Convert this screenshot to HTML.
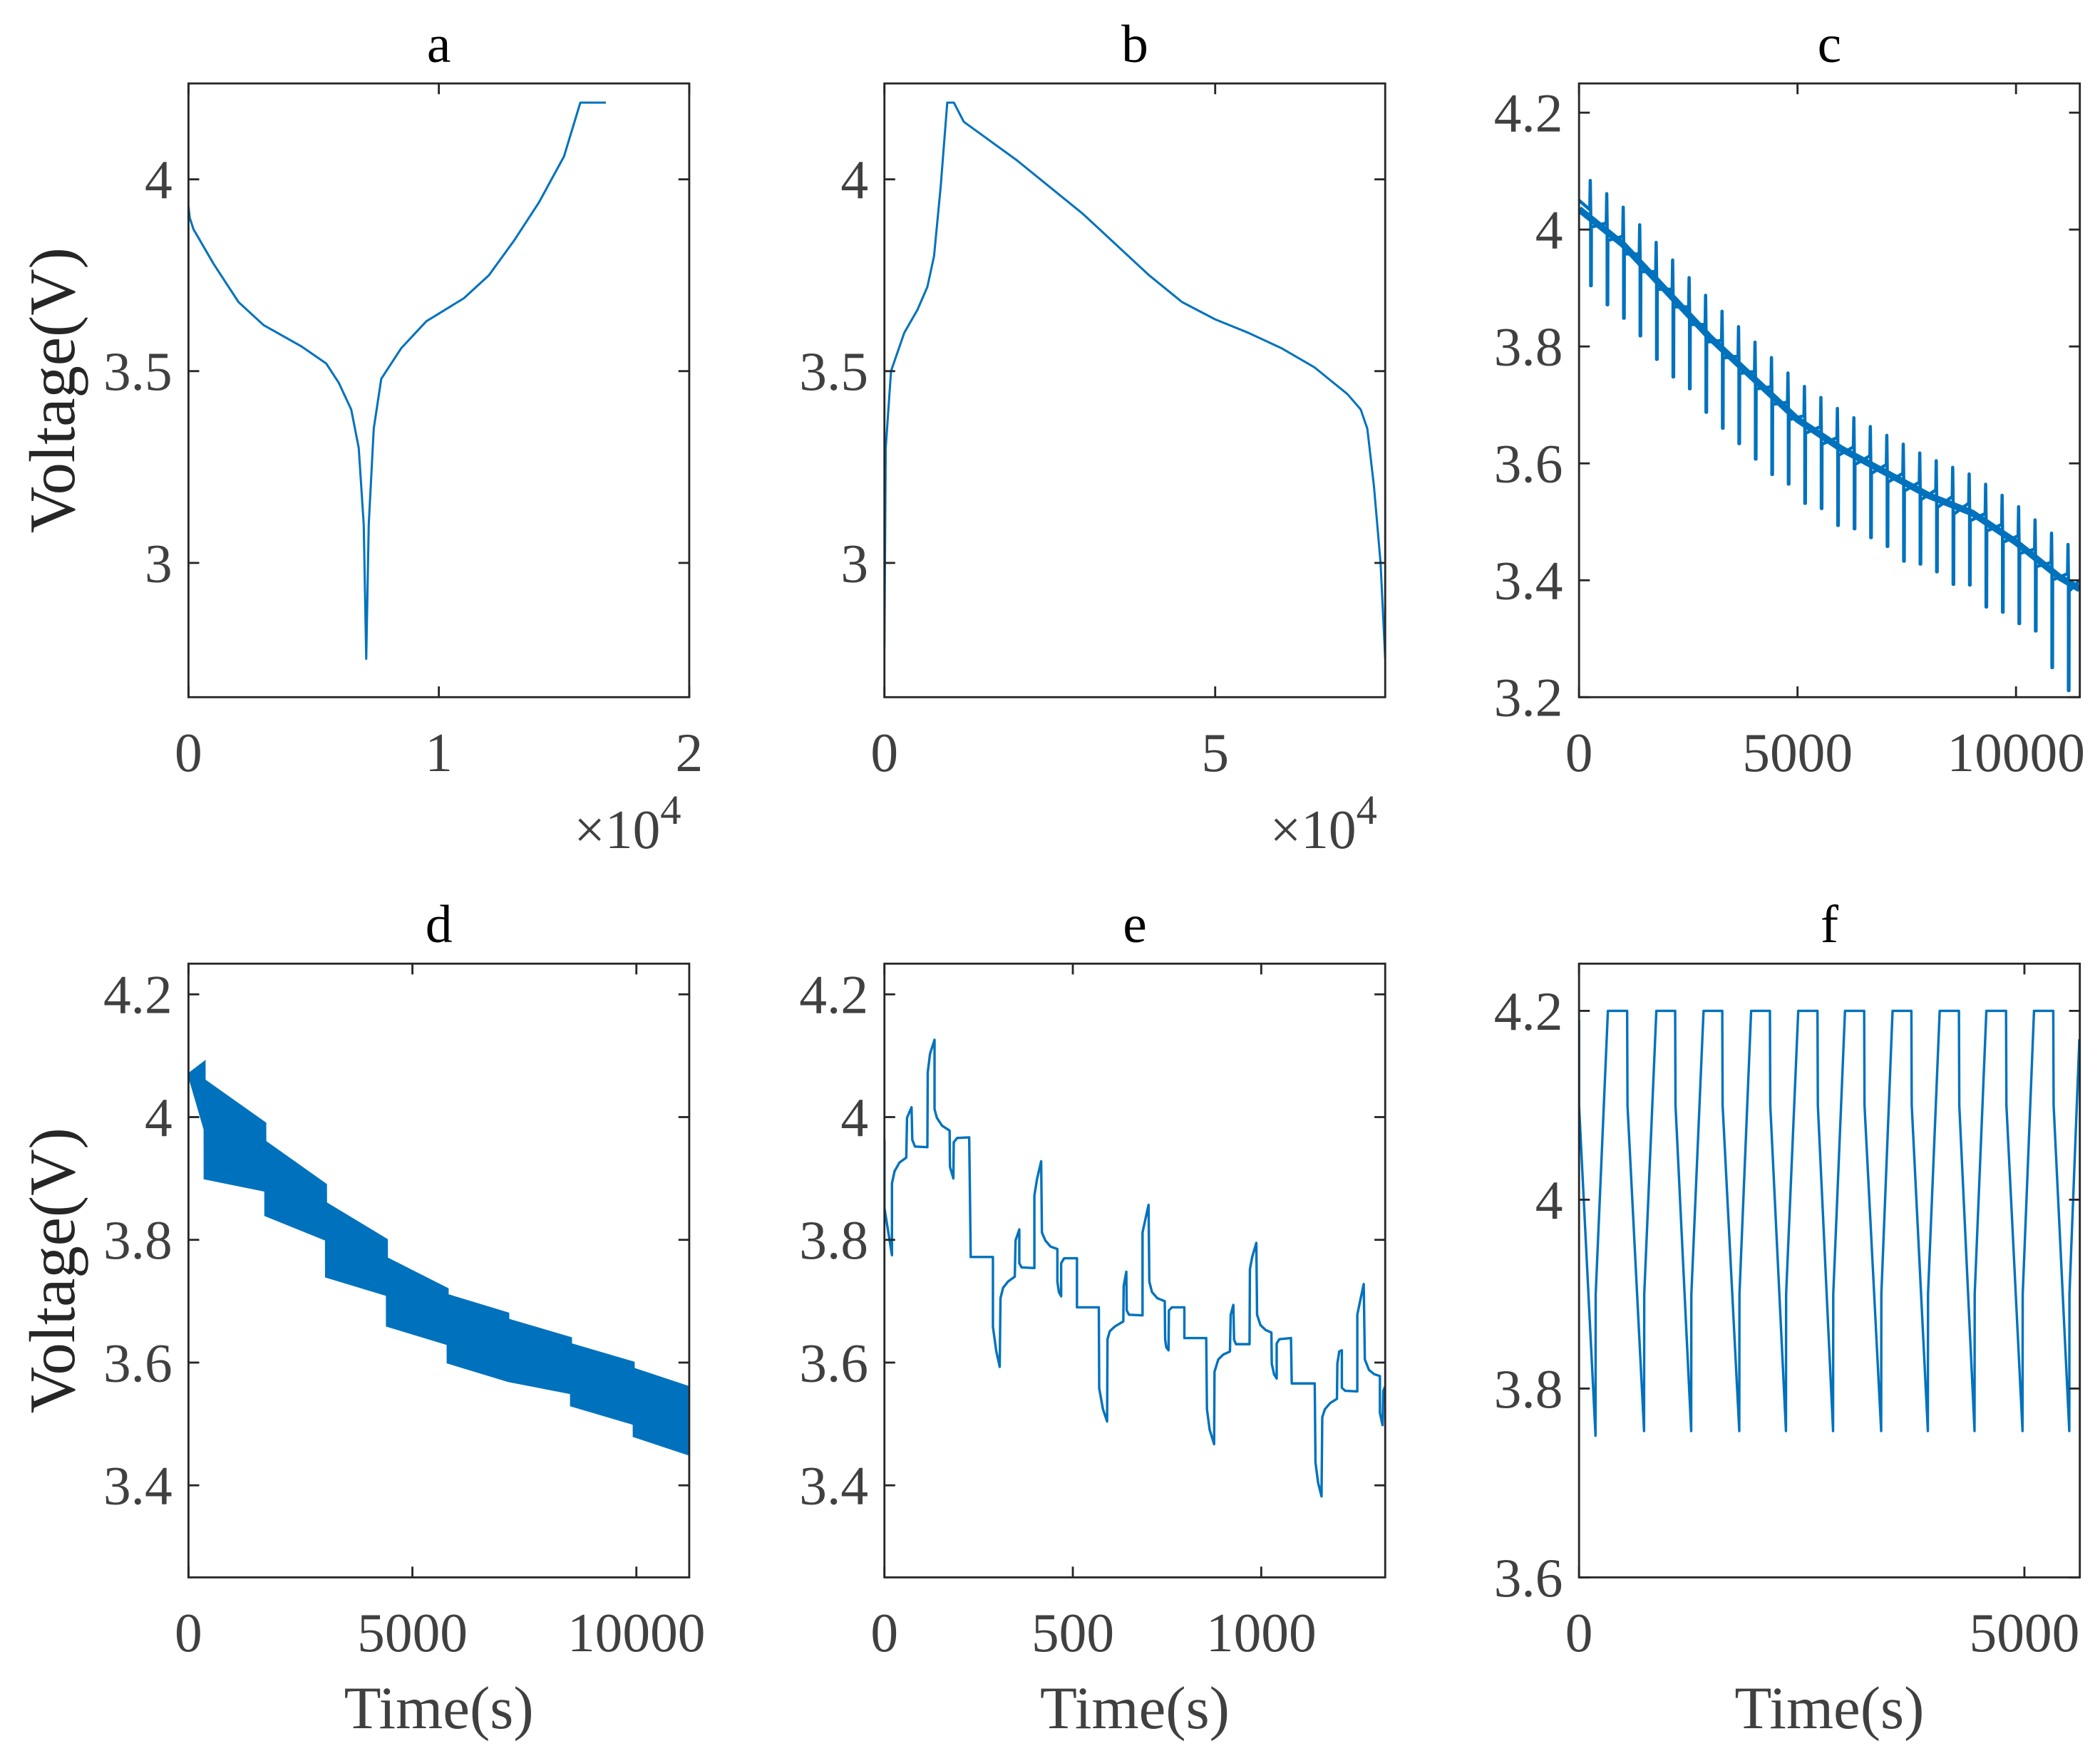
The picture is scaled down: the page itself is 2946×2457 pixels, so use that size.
<!DOCTYPE html>
<html><head><meta charset="utf-8"><style>
html,body{margin:0;padding:0;background:#fff;}
svg{display:block;}
text{font-family:"Liberation Serif","Times New Roman",serif;}
</style></head><body>
<svg id="fig" width="2946" height="2457" viewBox="0 0 1560 1301" preserveAspectRatio="none" xmlns="http://www.w3.org/2000/svg"></svg>
<script>
// ---------- data ----------
const aT = [0,0.005,0.02,0.1,0.2,0.3,0.45,0.55,0.6,0.65,0.68,0.7,0.71,0.72,0.74,0.77,0.85,0.95,1.1,1.2,1.3,1.4,1.5,1.565,1.667];
const aV = [3.93,3.9,3.87,3.78,3.68,3.62,3.565,3.52,3.47,3.4,3.3,3.1,2.75,3.1,3.35,3.48,3.56,3.63,3.69,3.75,3.84,3.94,4.06,4.2,4.2];
const bT = [0,0.02,0.1,0.3,0.5,0.65,0.75,0.85,0.95,1.05,1.2,1.6,2,3,4,4.5,5,5.5,6,6.5,7,7.2,7.3,7.4,7.5,7.57];
const bV = [2.78,3.3,3.5,3.6,3.66,3.72,3.8,3.98,4.2,4.2,4.15,4.1,4.05,3.91,3.75,3.68,3.635,3.6,3.56,3.51,3.44,3.4,3.35,3.2,3.0,2.75];
const cT = [0,1000,2000,3000,4000,5000,6000,7000,8000,9000,10000,11000,11460];
const cV = [4.05,3.99,3.91,3.83,3.76,3.69,3.64,3.6,3.56,3.53,3.48,3.42,3.4];
const cSpikeT = [267,644,1021,1398,1775,2152,2529,2906,3283,3660,4037,4414,4791,5168,5545,5922,6299,6676,7053,7430,7807,8184,8561,8938,9315,9692,10069,10446,10823,11200];
const cSpikeDepth = [0.13,0.14,0.14,0.14,0.15,0.15,0.14,0.15,0.15,0.15,0.15,0.15,0.14,0.15,0.14,0.15,0.14,0.14,0.14,0.15,0.14,0.14,0.15,0.14,0.16,0.15,0.15,0.14,0.18,0.2];
const dT = [0,360,361,1715,1716,3070,3071,4430,4431,5786,5787,7140,7141,8540,8541,9940,9941,11180];
const dTop = [4.07,4.09,4.06,3.99,3.96,3.89,3.86,3.8,3.77,3.72,3.71,3.68,3.67,3.64,3.63,3.6,3.59,3.56];
const dBot = [4.07,3.98,3.9,3.88,3.84,3.8,3.74,3.71,3.66,3.63,3.6,3.57,3.57,3.55,3.53,3.5,3.48,3.45];
const eT = [0,0,20,20,27,40,58,60,72,74,81,114,115,121,133,133,139,153,173,174,183,184,193,225,227,229,288,288,297,306,308,315,328,346,348,358,358,364,398,398,405,416,418,427,441,459,459,463,469,469,477,511,511,569,570,580,591,592,598,612,634,635,642,643,649,685,685,692,701,703,710,724,744,745,748,754,755,763,796,796,854,856,863,875,876,886,899,917,919,926,928,933,969,970,976,987,989,998,1012,1027,1028,1034,1041,1041,1048,1079,1081,1142,1144,1151,1160,1162,1169,1183,1201,1202,1207,1214,1214,1223,1255,1255,1264,1272,1275,1286,1300,1315,1315,1322,1324,1329];
const eV = [3.963,3.852,3.775,3.892,3.912,3.926,3.934,3.999,4.016,3.963,3.952,3.951,4.073,4.103,4.126,4.013,3.999,3.986,3.978,3.919,3.9,3.959,3.966,3.967,3.872,3.772,3.772,3.658,3.618,3.593,3.705,3.722,3.732,3.74,3.799,3.817,3.762,3.755,3.754,3.872,3.899,3.928,3.812,3.799,3.789,3.785,3.732,3.715,3.708,3.762,3.77,3.77,3.69,3.69,3.558,3.524,3.504,3.638,3.651,3.659,3.667,3.725,3.748,3.685,3.678,3.677,3.812,3.832,3.857,3.732,3.715,3.705,3.7,3.638,3.625,3.62,3.685,3.69,3.69,3.64,3.64,3.524,3.491,3.467,3.585,3.605,3.613,3.618,3.678,3.694,3.637,3.63,3.63,3.752,3.772,3.795,3.678,3.661,3.653,3.649,3.598,3.581,3.574,3.631,3.638,3.64,3.566,3.566,3.437,3.404,3.382,3.511,3.524,3.534,3.541,3.598,3.618,3.62,3.559,3.554,3.553,3.678,3.705,3.728,3.605,3.588,3.581,3.578,3.518,3.498,3.554,3.561];
const fMinT = [185,730,1259,1799,2323,2852,3392,3916,4440,4979,5504];
const fMinV = [3.75,3.755,3.755,3.755,3.755,3.755,3.755,3.755,3.755,3.755,3.755];
const fTopT = [324,868,1398,1932,2461,2986,3520,4049,4573,5108];
const fFlatEndT = [540,1079,1608,2143,2677,3201,3731,4265,4794,5324];
const fEnd = [5617,4.17];

// ---------- layout ----------
const NS="http://www.w3.org/2000/svg";
const svg=document.getElementById('fig');
function mk(tag,attrs,parent){const e=document.createElementNS(NS,tag);for(const k in attrs)e.setAttribute(k,attrs[k]);(parent||svg).appendChild(e);return e;}
const COLS=[140,657,1173], W=372, ROWS=[62,716], H=456;
function panel(id,col,row,xl,yl,xt,yt,xlab,ylab,title,showXlabel,showYlabel,mult){
  const L=COLS[col],T=ROWS[row];
  const g=mk('g',{});
  
  
  const sx=v=>L+(v-xl[0])/(xl[1]-xl[0])*W;
  const sy=v=>T+H-(v-yl[0])/(yl[1]-yl[0])*H;
  const clip=mk('clipPath',{id:'clip-'+id},g);
  mk('rect',{x:L,y:T,width:W,height:H},clip);
  const plot=mk('g',{'clip-path':'url(#clip-'+id+')'},g);
  
  
  const fr=mk('rect',{x:L,y:T,width:W,height:H,fill:'none',stroke:'#262626','stroke-width':1.5},g);
  
  
  xt.forEach((v,i)=>{const x=sx(v);
    mk('line',{x1:x,y1:T+H,x2:x,y2:T+H-8,stroke:'#262626','stroke-width':1.5},g);
    mk('line',{x1:x,y1:T,x2:x,y2:T+8,stroke:'#262626','stroke-width':1.5},g);
    const t=mk('text',{x:x,y:T+H+55,'text-anchor':'middle','font-size':41,fill:'#404040'},g);
    t.textContent=xlab[i];
    
    
  });
  yt.forEach((v,i)=>{const y=sy(v);
    mk('line',{x1:L,y1:y,x2:L+8,y2:y,stroke:'#262626','stroke-width':1.5},g);
    mk('line',{x1:L+W,y1:y,x2:L+W-8,y2:y,stroke:'#262626','stroke-width':1.5},g);
    const t=mk('text',{x:L-12,y:y+14,'text-anchor':'end','font-size':41,fill:'#404040'},g);
    t.textContent=ylab[i];
    
    
  });
  const tt=mk('text',{x:L+W/2,y:T-16,'text-anchor':'middle','font-size':40,fill:'#000'},g);
  tt.textContent=title;
  
  
  if(showXlabel){const t=mk('text',{x:L+W/2,y:T+H+112,'text-anchor':'middle','font-size':45,fill:'#404040'},g);
    t.textContent='Time(s)';
    
    }
  if(showYlabel){const cy=T+H/2;const t=mk('text',{x:0,y:0,transform:'translate(55,'+cy+') rotate(-90)','text-anchor':'middle','font-size':48,fill:'#262626'},g);
    t.textContent='Voltage(V)';
    
    }
  if(mult){const t=mk('text',{x:L+W-6,y:T+H+112,'text-anchor':'end','font-size':41,fill:'#404040'},g);
    t.innerHTML='×10<tspan dy="-18" font-size="31">4</tspan>';
    
    }
  return {sx,sy,plot};
}
function line(p,pts,name,w){const pl=mk('polyline',{points:pts.map(q=>p.sx(q[0]).toFixed(2)+','+p.sy(q[1]).toFixed(2)).join(' '),fill:'none',stroke:'#0072BD','stroke-width':w||1.6,'stroke-linejoin':'round'},p.plot);
  
  return pl;}

// a
const pa=panel('a',0,0,[0,2],[2.65,4.25],[0,1,2],[3,3.5,4],['0','1','2'],['3','3.5','4'],'a',false,true,true);
line(pa,aT.map((t,i)=>[t,aV[i]]),'voltage-line-a');
// b
const pb=panel('b',1,0,[0,7.57],[2.65,4.25],[0,5],[3,3.5,4],['0','5'],['3','3.5','4'],'b',false,false,true);
line(pb,bT.map((t,i)=>[t,bV[i]]),'voltage-line-b');
// c
const pc=panel('c',2,0,[0,11460],[3.2,4.25],[0,5000,10000],[3.2,3.4,3.6,3.8,4,4.2],['0','5000','10000'],['3.2','3.4','3.6','3.8','4','4.2'],'c',false,false,false);
function interp(T,V,t){for(let i=1;i<T.length;i++){if(t<=T[i]){const f=(t-T[i-1])/(T[i]-T[i-1]);return V[i-1]+f*(V[i]-V[i-1]);}}return V[V.length-1];}
line(pc,cT.map((t,i)=>[t,cV[i]-0.015]),'voltage-band-c',5);
const cPts=[];
cSpikeT.forEach((t,i)=>{const b=interp(cT,cV,t);cPts.push([t-20,b],[t-10,b+0.05],[t,b-0.01],[t,b-cSpikeDepth[i]],[t+12,b-cSpikeDepth[i]],[t+15,b-0.03]);});
const cAll=[[0,cV[0]]].concat(cPts).concat([[cT[cT.length-1],cV[cV.length-1]]]);
line(pc,cAll,'voltage-spikes-c',2.4);
// d
const pd=panel('d',0,1,[0,11180],[3.25,4.25],[0,5000,10000],[3.4,3.6,3.8,4,4.2],['0','5000','10000'],['3.4','3.6','3.8','4','4.2'],'d',true,true,false);
const band=dT.map((t,i)=>[t,dTop[i]]).concat(dT.map((t,i)=>[t,dBot[i]]).reverse());
const poly=mk('polygon',{points:band.map(q=>pd.sx(q[0]).toFixed(2)+','+pd.sy(q[1]).toFixed(2)).join(' '),fill:'#0072BD',stroke:'#0072BD','stroke-width':1.5},pd.plot);


// e
const pe=panel('e',1,1,[0,1329],[3.25,4.25],[0,500,1000],[3.4,3.6,3.8,4,4.2],['0','500','1000'],['3.4','3.6','3.8','4','4.2'],'e',true,false,false);
line(pe,eT.map((t,i)=>[t,eV[i]]),'voltage-line-e',1.8);
// f
const pf=panel('f',2,1,[0,5622],[3.6,4.25],[0,5000],[3.6,3.8,4,4.2],['0','5000'],['3.6','3.8','4','4.2'],'f',true,false,false);
const fPts=[[0,4.19],[0,4.1]];
fMinT.forEach((t,i)=>{
  fPts.push([t,fMinV[i]]);
  if(i<fTopT.length){fPts.push([t+2,3.9],[fTopT[i],4.2],[fFlatEndT[i],4.2],[fFlatEndT[i]+4,4.1]);}
  else{fPts.push([t+2,3.9],[fEnd[0],fEnd[1]]);}
});
line(pf,fPts,'voltage-line-f',1.8);
</script>
</body></html>
